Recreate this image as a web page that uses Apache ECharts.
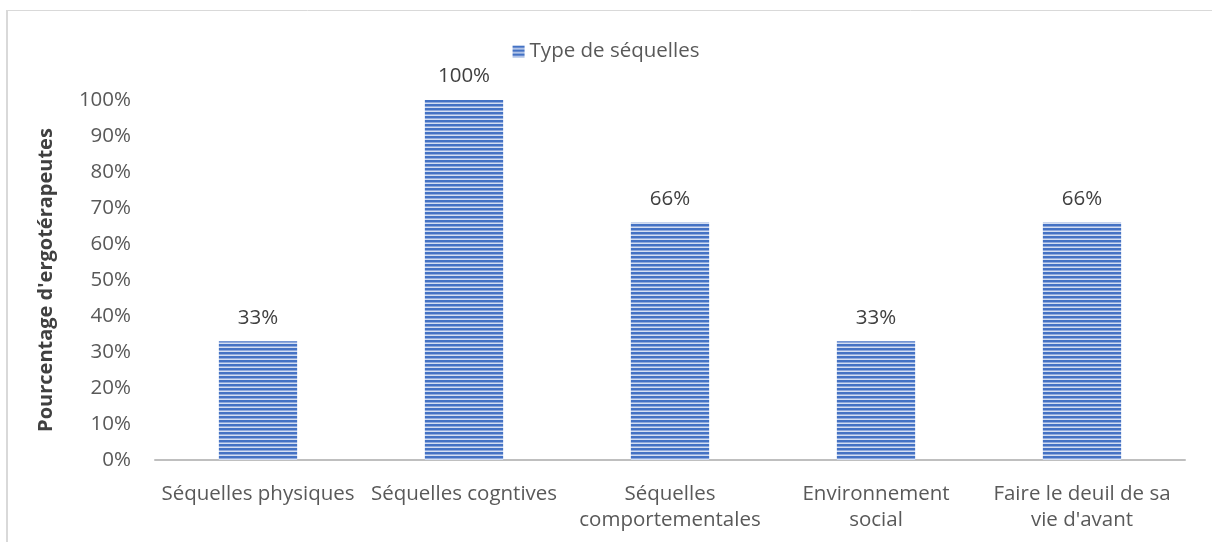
<!DOCTYPE html>
<html><head><meta charset="utf-8">
<script src="https://cdn.jsdelivr.net/npm/echarts@6/dist/echarts.min.js"></script>
<style>html,body{margin:0;padding:0;background:#fff}#c{width:1212px;height:542px}</style>
</head><body><div id="c"></div>
<script>
const categories = ["Séquelles physiques", "Séquelles cogntives", "Séquelles\ncomportementales", "Environnement\nsocial", "Faire le deuil de sa\nvie d'avant"];
const values = [33, 100, 66, 33, 66];
const seriesName = "Type de séquelles";
const yTitle = "Pourcentage d'ergotérapeutes";

function stripes() {
  const c = document.createElement('canvas');
  c.width = 4; c.height = 4;
  const g = c.getContext('2d');
  g.fillStyle = '#4472C4'; g.fillRect(0, 0, 4, 2);
  g.fillStyle = '#8fa9dc'; g.fillRect(0, 2, 4, 1);
  g.fillStyle = '#d3def2'; g.fillRect(0, 3, 4, 1);
  return c;
}
const pat = { image: stripes(), repeat: 'repeat' };
const font = '"Open Sans", Lato, sans-serif';
const fs = 20.5;
const chart = echarts.init(document.getElementById('c'), null, { renderer: 'canvas' });
chart.setOption({
  animation: false,
  textStyle: { fontFamily: font },
  legend: {
    top: 36, left: 'center',
    itemWidth: 12, itemHeight: 12, itemGap: 5,
    textStyle: { fontSize: fs, color: '#595959', fontFamily: font },
    data: [{ name: seriesName, icon: 'rect' }]
  },
  grid: { left: 155, right: 27, top: 100, bottom: 82 },
  xAxis: {
    type: 'category', data: categories,
    axisLine: { lineStyle: { color: '#bfbfbf', width: 2 } },
    axisTick: { show: false },
    axisLabel: { color: '#595959', fontSize: fs, margin: 21, lineHeight: 26, fontFamily: font, interval: 0 }
  },
  yAxis: {
    type: 'value', min: 0, max: 100, interval: 10,
    name: yTitle, nameLocation: 'middle', nameGap: 99, nameRotate: 90,
    nameTextStyle: { color: '#404040', fontSize: 20, fontWeight: 'bold', fontFamily: font },
    axisLine: { show: false }, axisTick: { show: false }, splitLine: { show: false },
    axisLabel: { color: '#595959', fontSize: fs, margin: 24, formatter: '{value}%', fontFamily: font }
  },
  series: [{
    name: seriesName, type: 'bar', data: values, barWidth: '38%',
    itemStyle: { color: pat },
    label: { show: true, position: 'top', distance: 13, formatter: '{c}%', color: '#404040', fontSize: fs, fontFamily: font }
  }],
  graphic: [
    { type: 'line', shape: { x1: 6, y1: 10.5, x2: 1212, y2: 10.5 }, style: { stroke: '#d9d9d9', lineWidth: 1 } },
    { type: 'line', shape: { x1: 7, y1: 10, x2: 7, y2: 542 }, style: { stroke: '#d9d9d9', lineWidth: 2 } }
  ]
});
</script></body></html>
